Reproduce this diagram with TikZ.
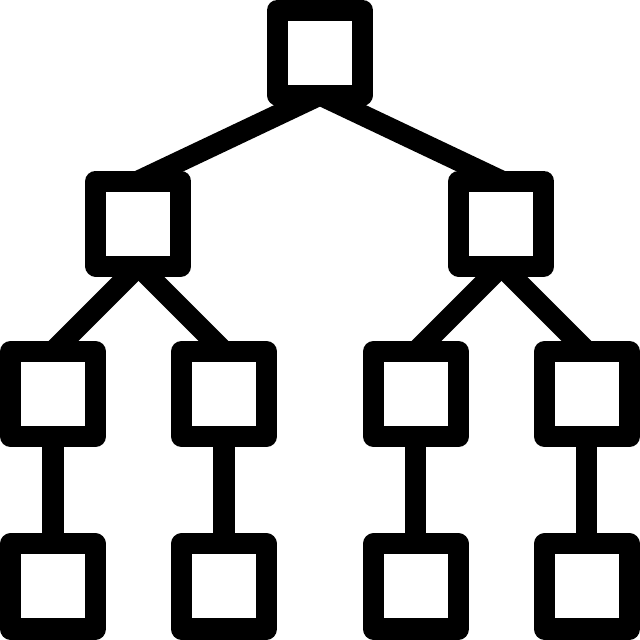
\documentclass[tikz,border=0pt]{standalone}
\usepackage{fontspec, tikz}

\begin{document}
\begin{tikzpicture}[
  box/.style={draw=black, line width=0.21cm, line join=round, minimum size=0.85cm, inner sep=0pt, outer sep=0pt},
  link/.style={draw=black, line width=0.21cm}
]

\useasboundingbox (0,0) rectangle (6.4,6.4);

% Root
\node[box] (root) at (3.2,5.875) {};

% Middle
\node[box] (midL) at (1.385,4.165) {};
\node[box] (midR) at (5.015,4.165) {};

% Branches
\node[box] (brA) at (0.53,2.46) {};
\node[box] (brB) at (2.24,2.46) {};
\node[box] (brC) at (4.16,2.46) {};
\node[box] (brD) at (5.87,2.46) {};

% Leaves
\node[box] (lfA) at (0.53,0.535) {};
\node[box] (lfB) at (2.24,0.535) {};
\node[box] (lfC) at (4.16,0.535) {};
\node[box] (lfD) at (5.87,0.535) {};

% Links
\draw[link] (root.south) -- (midL.north);
\draw[link] (root.south) -- (midR.north);
\draw[link] (midL.south) -- (brA.north);
\draw[link] (midL.south) -- (brB.north);
\draw[link] (midR.south) -- (brC.north);
\draw[link] (midR.south) -- (brD.north);
\draw[link] (brA) -- (lfA);
\draw[link] (brB) -- (lfB);
\draw[link] (brC) -- (lfC);
\draw[link] (brD) -- (lfD);

\end{tikzpicture}
\end{document}
